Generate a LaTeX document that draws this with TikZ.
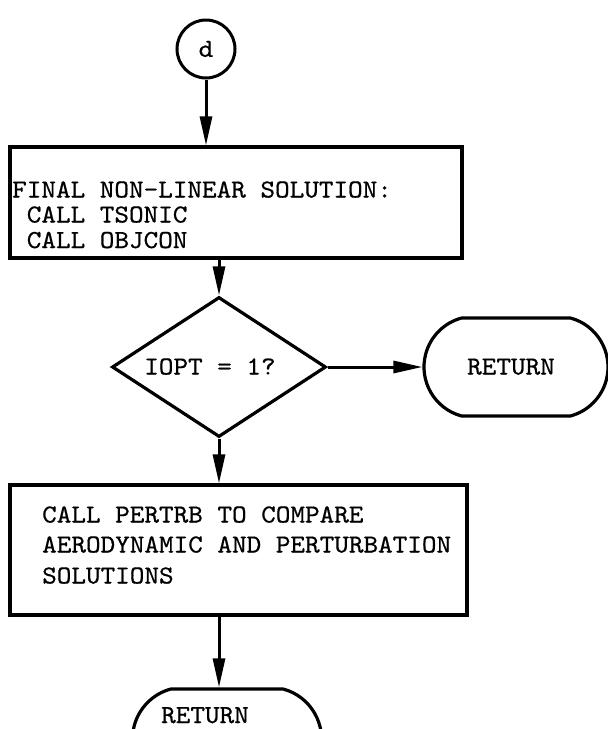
\documentclass[tikz,border=0pt]{standalone}
\usepackage{fontspec}
\setmonofont{lmmono10-regular.otf}[FakeStretch=1.07,FakeBold=0.6]
\usetikzlibrary{shapes.geometric,shapes.misc,arrows.meta}
\begin{document}
\begin{tikzpicture}[x=1pt,y=-1pt,
  every node/.style={font=\fontsize{26}{28}\selectfont\ttfamily, inner sep=0pt},
  procbox/.style={draw, rectangle, line width=3.2pt},
  decision/.style={draw, diamond, line width=3.2pt},
  terminal/.style={draw, rounded rectangle, rounded rectangle arc length=150, line width=3.2pt},
  connector/.style={draw, circle, line width=3pt},
  txt/.style={anchor=base west},
  ctxt/.style={anchor=base},
  arr/.style={-{Triangle[length=29pt,width=12pt]}, line width=3pt}]
\clip (0,0) rectangle (608,729);
\fill[white] (0,0) rectangle (608,729);
% start connector
\node[connector, minimum size=58pt] (circ) at (206,49) {d};
% first box
\node[procbox, minimum width=452pt, minimum height=111pt] (box1) at (236,202.5) {};
\node[txt] (t1a) at (12,197.5) {FINAL NON-LINEAR SOLUTION:};
\node[txt] (t1b) at (12,222.5) {~CALL TSONIC};
\node[txt] (t1c) at (12,248) {~CALL OBJCON};
% decision
\node[decision, minimum width=214pt, minimum height=140pt] (dia) at (219,367) {};
\node[ctxt] (dtxt) at (210,374.5) {IOPT = 1?};
% return 1
\node[terminal, minimum width=184pt, minimum height=98pt] (ret1) at (516,367) {};
\node[ctxt] (r1txt) at (511,374.5) {RETURN};
% second box
\node[procbox, minimum width=457pt, minimum height=130pt] (box2) at (238.5,550) {};
\node[txt] (t2a) at (42,522.5) {CALL PERTRB TO COMPARE};
\node[txt] (t2b) at (42,552.5) {AERODYNAMIC AND PERTURBATION};
\node[txt] (t2c) at (42,583.5) {SOLUTIONS};
% return 2
\node[terminal, minimum width=189pt, minimum height=100pt] (ret2) at (227,739) {};
\node[ctxt] (r2txt) at (205,723) {RETURN};
% connectors
\draw[arr] (circ.south) -- (circ.south |- box1.north);
\draw[arr] (dia.north |- box1.south) -- (dia.north);
\draw[arr] (dia.east) -- (dia.east -| ret1.west);
\draw[arr] (dia.south) -- (dia.south |- box2.north);
\draw[arr] (dia.south |- box2.south) -- (dia.south |- ret2.north);
\end{tikzpicture}
\end{document}
